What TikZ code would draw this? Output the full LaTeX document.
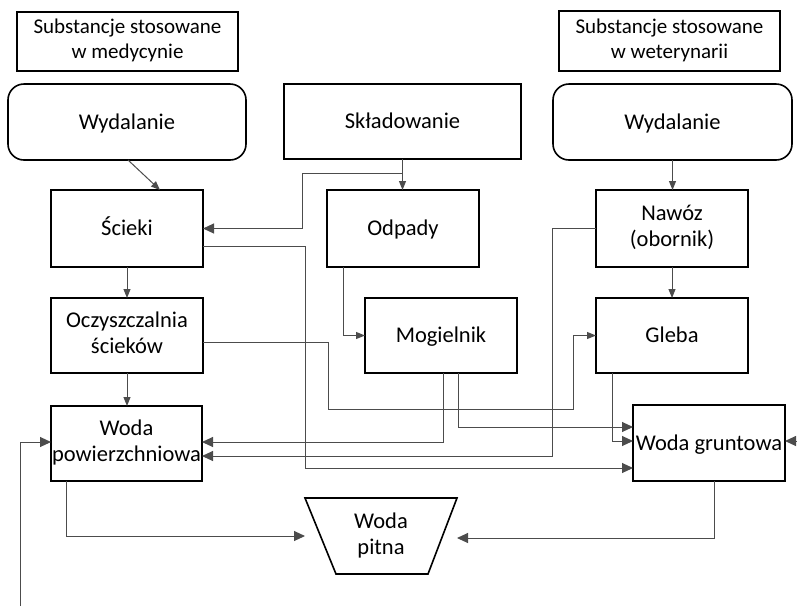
\documentclass[tikz,border=0pt]{standalone}
\usepackage{fontspec}
\setmainfont{Carlito}
\usetikzlibrary{arrows.meta,calc}
\newcommand{\boxstrut}{\rule[-5pt]{0pt}{24pt}}
\begin{document}
\begin{tikzpicture}[x=1pt,y=-1pt,
  box/.style={draw=black,line width=1.6pt,minimum width=152pt,minimum height=76pt,inner sep=0pt,outer sep=0pt,align=center,font=\fontsize{22.5}{26}\selectfont,execute at begin node=\boxstrut,execute at end node=\boxstrut},
  topbox/.style={box,minimum width=221pt,minimum height=59pt,font=\fontsize{21}{25}\selectfont},
  wide/.style={box,minimum width=238pt},
  rbox/.style={wide,rounded corners=16pt},
  conn/.style={draw=black!70,line width=1pt,-{Triangle[length=9pt,width=7pt]}},
  big/.style={conn,-{Triangle[length=11pt,width=10pt]}}
]
\useasboundingbox (0,0) rectangle (797,606);
% top row
\node[topbox] (sm) at (127.5,41.5) {Substancje stosowane\\w medycynie};
\node[topbox,minimum height=60pt] (sw) at (669.5,41) {Substancje stosowane\\w weterynarii};
\node[rbox] (wl) at (127,122) {Wydalanie};
\node[wide,minimum height=75pt,minimum width=237pt] (sk) at (402.5,121.5) {Składowanie};
\node[rbox,minimum width=239pt] (wr) at (672.5,122) {Wydalanie};
% second row
\node[box,minimum height=77pt] (sc) at (127,228.5) {Ścieki};
\node[box,minimum height=77pt] (od) at (403,228.5) {Odpady};
\node[box,minimum height=77pt] (nw) at (672,228.5) {Nawóz\\(obornik)};
% third row
\node[box,minimum height=75pt] (oc) at (127,335.5) {Oczyszczalnia\\ścieków};
\node[box,minimum height=75pt] (mg) at (441,335.5) {Mogielnik};
\node[box,minimum height=75pt] (gl) at (672,335.5) {Gleba};
% fourth row
\node[box,minimum width=151pt,minimum height=75pt] (wp) at (126.5,443.5) {Woda\\powierzchniowa};
\node[box] (wg) at (709,443) {Woda gruntowa};
% drinking water
\node[box,draw=none,minimum height=76pt] (pit) at (381,536) {Woda\\pitna};
\draw[line width=1.6pt,line join=miter] (pit.north west) -- (pit.north east) -- ([xshift=-29pt]pit.south east) -- ([xshift=31pt]pit.south west) -- cycle;
% free ends
\coordinate (rin) at (797,441);
\coordinate (lin) at (20,606);
% connectors
\draw[conn] ([xshift=1pt]wl.south) -- ([xshift=33pt]sc.north);
\draw[conn] (sk.south) -- (sk.south |- od.north);
\draw[big] ([yshift=-14pt]sk.south) -- ++(-100,0) |- (sc.east);
\draw[conn] (wr.south) -- (wr.south |- nw.north);
\draw[conn] (sc.south) -- (oc.north);
\draw[conn] (oc.south) -- (oc.south |- wp.north);
\draw[conn] (nw.south) -- (gl.north);
\draw[conn] ([xshift=-60pt]od.south) |- (mg.west);
\draw[big] ([yshift=-17.5pt]sc.east) -- ++(102,0) |- ([yshift=-25pt]wg.west);
\draw[conn] ([yshift=-6.5pt]oc.east) -- ++(125,0) -- ++(0,67) -| (573,335.5) -- (gl.west);
\draw[big] ([xshift=2pt]mg.south) |- ([yshift=1.5pt]wp.east);
\draw[big] ([xshift=17pt]mg.south) |- ([yshift=16pt]wg.west);
\draw[big] (nw.west) -- ++(-44,0) |- ([yshift=-12.5pt]wp.east);
\draw[big] ([xshift=-60pt]gl.south) |- ([yshift=2pt]wg.west);
\draw[big] (rin) -- ([yshift=2pt]wg.east);
\draw[big] (lin) |- ([yshift=1.5pt]wp.west);
\draw[big] ([xshift=-60.5pt]wp.south) |- (pit.west);
\draw[big] ([xshift=5pt]wg.south) |- ([yshift=-2pt]pit.east);
\end{tikzpicture}
\end{document}
